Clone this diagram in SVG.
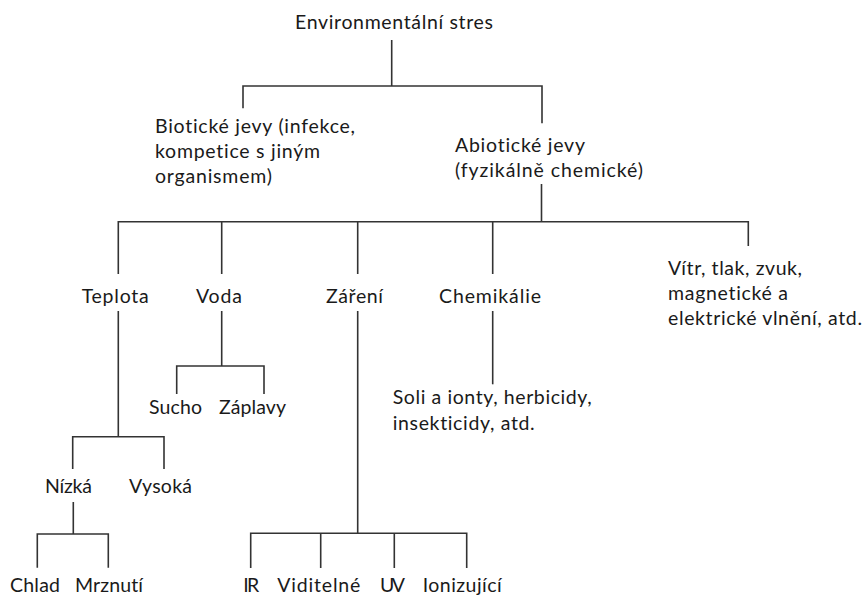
<svg xmlns="http://www.w3.org/2000/svg" width="865" height="595" viewBox="0 0 865 595">
<style>
  text { font-family: "Lato", "Liberation Sans", sans-serif; font-size: 19.5px; fill: #1a1a1a; font-variant-ligatures: none; font-feature-settings: "liga" 0; }
  .c { fill: none; stroke: #333; stroke-width: 1.6; }
</style>
<rect width="865" height="595" fill="#fff"/>
<g id="connectors">
  <path class="c" d="M391.7,40 V86 M243,108.3 V86 H542 V123.3"/>
  <path class="c" d="M541.5,184 V221.7 M118.3,274 V221.7 H748.3 V246 M221.7,221.7 V274 M357.7,221.7 V274 M492.7,221.7 V274"/>
  <path class="c" d="M118.3,311 V436.7 M72.7,469 V436.7 H164 V469"/>
  <path class="c" d="M221.7,311 V366 M176.7,394 V366 H264 V394"/>
  <path class="c" d="M357.7,311 V533.3 M250.7,568 V533.3 H466.7 V568 M320.7,533.3 V568 M394.3,533.3 V568"/>
  <path class="c" d="M492.7,311 V384.3"/>
  <path class="c" d="M73.3,502 V534 M37.3,567.7 V534 H108.3 V567.7"/>
</g>
<g id="root"><text x="295" y="29" textLength="198">Environmentální stres</text></g>
<g id="biotic">
  <text x="155" y="132.7" textLength="200">Biotické jevy (infekce,</text>
  <text x="155" y="157.7" textLength="165">kompetice s jiným</text>
  <text x="155" y="182.5" textLength="117">organismem)</text>
</g>
<g id="abiotic">
  <text x="455" y="151.7" textLength="130">Abiotické jevy</text>
  <text x="455" y="176.7" textLength="188">(fyzikálně chemické)</text>
</g>
<g id="teplota"><text x="81.7" y="302.7" textLength="67">Teplota</text></g>
<g id="voda"><text x="196" y="302.7" textLength="46">Voda</text></g>
<g id="zareni"><text x="326" y="302.7" textLength="57">Záření</text></g>
<g id="chemikalie"><text x="439" y="302.7" textLength="102">Chemikálie</text></g>
<g id="ostatni">
  <text x="668" y="274.7" textLength="134">Vítr, tlak, zvuk,</text>
  <text x="668" y="299.7" textLength="120">magnetické a</text>
  <text x="668" y="324.7" textLength="194">elektrické vlnění, atd.</text>
</g>
<g id="sucho"><text x="149" y="414" textLength="53">Sucho</text></g>
<g id="zaplavy"><text x="219" y="414" textLength="67">Záplavy</text></g>
<g id="soli">
  <text x="392.7" y="404" textLength="199">Soli a ionty, herbicidy,</text>
  <text x="392.7" y="430" textLength="142">insekticidy, atd.</text>
</g>
<g id="nizka"><text x="45" y="492.7" textLength="47">Nízká</text></g>
<g id="vysoka"><text x="129" y="492.7" textLength="63">Vysoká</text></g>
<g id="chlad"><text x="10" y="592" textLength="50">Chlad</text></g>
<g id="mrznuti"><text x="75" y="592" textLength="68">Mrznutí</text></g>
<g id="ir"><text x="243.3" y="592" textLength="16">IR</text></g>
<g id="viditelne"><text x="277.3" y="592" textLength="83">Viditelné</text></g>
<g id="uv"><text x="380" y="592" textLength="25">UV</text></g>
<g id="ionizujici"><text x="422.7" y="592" textLength="79">Ionizující</text></g>
</svg>
